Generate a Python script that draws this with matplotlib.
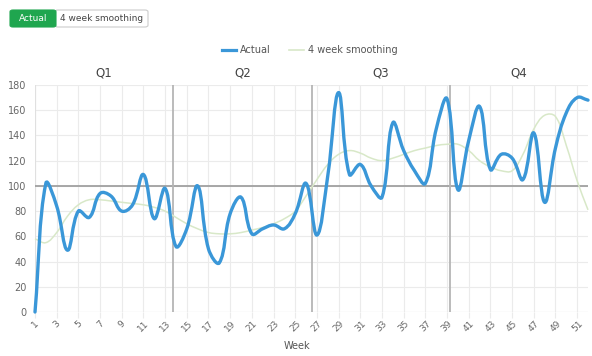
import numpy as np
import matplotlib
matplotlib.use("Agg")
import matplotlib.pyplot as plt
from matplotlib.path import Path
from matplotlib.patches import PathPatch, FancyBboxPatch
from matplotlib.lines import Line2D

weeks = list(range(1, 53))
actual = [0, 102, 84, 49, 80, 75, 94, 92, 80, 85, 109, 74, 98, 52, 66, 100, 50, 39,
          78, 91, 62, 66, 69, 66, 78, 102, 61, 108, 174, 109, 117, 100, 91, 150, 128,
          112, 102, 145, 169, 97, 136, 163, 113, 125, 122, 105, 142, 87, 130, 158, 170, 168]
smoothing = [58, 55, 63, 76, 85, 89, 89, 88, 87, 86, 85, 83, 80, 75, 70, 66, 63, 62,
             62, 63, 65, 67, 70, 74, 80, 92, 105, 117, 125, 128, 126, 122, 120, 122, 125,
             128, 130, 132, 133, 133, 128, 120, 115, 112, 112, 125, 145, 156, 155, 132, 104, 81]
quarters = ["Q1", "Q2", "Q3", "Q4"]
target = 100
y_ticks = list(range(0, 181, 20))
x_tick_labels = [str(w) for w in range(1, 53, 2)]

W, H = 592, 356
fig = plt.figure(figsize=(W / 100, H / 100), dpi=100)
L, R, T, B = 35, 588, 85, 312
ax = fig.add_axes([L / W, 1 - B / H, (R - L) / W, (B - T) / H])
ax.set_xlim(1, 52)
ax.set_ylim(0, 180)

grid_c = "#ebebeb"
ax.set_yticks(y_ticks)
ax.set_xticks(range(1, 53, 2))
ax.set_xticklabels(x_tick_labels, rotation=45, fontsize=6.5, color="#666666")
ax.set_yticklabels([str(v) for v in y_ticks], fontsize=7, color="#666666")
ax.tick_params(axis="x", length=4, color=grid_c, pad=1)
ax.tick_params(axis="y", length=0, pad=6)
for lab in ax.get_xticklabels():
    lab.set_ha("center")
ax.grid(True, color=grid_c, linewidth=0.8)
ax.set_axisbelow(True)
for s in ax.spines.values():
    s.set_visible(False)
ax.axhline(0, color="#e0e0e0", linewidth=0.8, zorder=1)
ax.axvline(1, color="#e0e0e0", linewidth=0.8, zorder=1)

# target line and quarter separators
ax.axhline(target, color="#a0a0a0", linewidth=1.3, zorder=2)
span = 52 - 1
for q in range(1, 4):
    ax.axvline(1 + span * q / 4, color="#b5b5b5", linewidth=1.3, zorder=2)
for q, name in enumerate(quarters):
    ax.text(1 + span * (q + 0.5) / 4, 184, name, ha="center", va="bottom",
            fontsize=8.5, color="#444444")

fig.canvas.draw()


def spline_path(xs, ys, tension=0.4):
    pts = ax.transData.transform(np.column_stack([xs, ys]))
    n = len(pts)
    verts = [pts[0]]
    codes = [Path.MOVETO]
    cps = []
    for i in range(n):
        prev = pts[max(i - 1, 0)]
        cur = pts[i]
        nxt = pts[min(i + 1, n - 1)]
        d01 = np.hypot(*(cur - prev))
        d12 = np.hypot(*(nxt - cur))
        tot = d01 + d12
        fa = tension * d01 / tot if tot else 0
        fb = tension * d12 / tot if tot else 0
        cps.append((cur - fa * (nxt - prev), cur + fb * (nxt - prev)))
    for i in range(n - 1):
        verts += [cps[i][1], cps[i + 1][0], pts[i + 1]]
        codes += [Path.CURVE4] * 3
    verts = ax.transData.inverted().transform(np.array(verts))
    return Path(verts, codes)


blue = "#3a97d8"
green = "#d8e8c8"
ax.add_patch(PathPatch(spline_path(weeks, smoothing), facecolor="none",
                       edgecolor=green, linewidth=1.1, zorder=3, clip_on=False))
ax.add_patch(PathPatch(spline_path(weeks, actual), facecolor="none",
                       edgecolor=blue, linewidth=2.4, zorder=4, clip_on=False,
                       capstyle="round", joinstyle="round"))

ax.set_xlabel("Week", fontsize=7, color="#555555")
ax.xaxis.set_label_coords((297 - L) / (R - L), -(346 - B) / (B - T))
ax.xaxis.label.set_va("center")

# legend
fig.add_artist(Line2D([222 / W, 236 / W], [1 - 50 / H] * 2, color=blue, linewidth=2.3))
fig.text(240 / W, 1 - 50 / H, "Actual", fontsize=7, color="#555555", va="center")
fig.add_artist(Line2D([289 / W, 304 / W], [1 - 50 / H] * 2, color=green, linewidth=1.2))
fig.text(308 / W, 1 - 50 / H, "4 week smoothing", fontsize=7, color="#555555", va="center")

# buttons
fig.add_artist(FancyBboxPatch((55 / W, 1 - 27 / H), 93 / W, 17 / H,
                              boxstyle="round,pad=0,rounding_size=0.005",
                              facecolor="white", edgecolor="#cccccc", linewidth=0.8,
                              transform=fig.transFigure))
fig.add_artist(FancyBboxPatch((10 / W, 1 - 27 / H), 46 / W, 17 / H,
                              boxstyle="round,pad=0,rounding_size=0.005",
                              facecolor="#1fa64f", edgecolor="#1fa64f", linewidth=0.8,
                              transform=fig.transFigure))
fig.text(33 / W, 1 - 18.5 / H, "Actual", fontsize=6.5, color="white", ha="center", va="center")
fig.text(101.5 / W, 1 - 18.5 / H, "4 week smoothing", fontsize=6.5, color="#444444",
         ha="center", va="center")

fig.savefig("out.png", dpi=100)
